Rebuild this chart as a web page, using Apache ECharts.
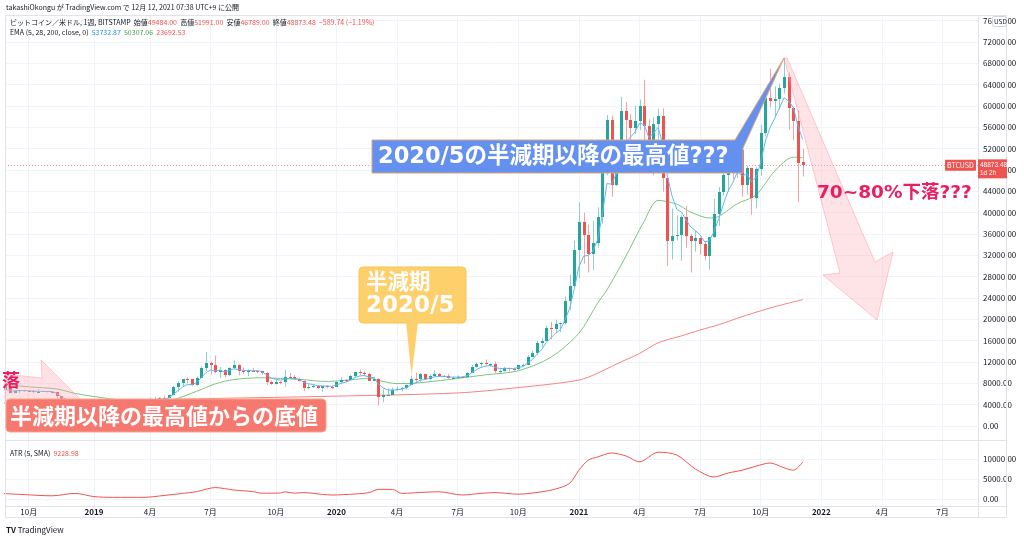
<!DOCTYPE html>
<html><head><meta charset="utf-8">
<script src="https://cdn.jsdelivr.net/npm/echarts@6/dist/echarts.min.js"></script>
<style>html,body{margin:0;padding:0;background:#fff}#c{width:1024px;height:538px}</style>
</head><body><div id="c"></div>
<script>
// ---- data (weekly BTCUSD, Bitstamp) ----
const firstWeek = '2018-08-20';
// [open, high, low, close]
const ohlc = [
 [6480,6930,6250,6710],[6710,7300,6660,7260],[7260,7410,6200,6250],[6250,6570,6170,6500],[6500,6820,6120,6710],[6710,6790,6400,6620],
 [6620,6680,6510,6570],[6570,6700,6120,6390],[6390,6900,6370,6410],[6410,6500,6380,6480],[6480,6480,6260,6430],
 [6430,6580,6320,6400],[6400,6440,5200,5590],[5590,5600,3800,4060],[4060,4400,3550,4160],
 [4160,4220,3260,3270],[3270,3560,3160,3230],[3230,4230,3200,4000],[4000,4250,3560,3840],[3840,4050,3650,4040],
 // 2019
 [4040,4100,3550,3540],[3540,3700,3530,3550],[3550,3630,3480,3520],[3520,3560,3350,3410],
 [3410,3700,3360,3660],[3660,3720,3580,3670],[3670,4200,3650,3810],[3810,3900,3780,3860],
 [3860,3950,3700,3940],[3940,4050,3850,4020],[4020,4100,3950,4020],[4020,4140,3950,4100],
 [4100,5340,4090,5060],[5060,5470,4950,5150],[5150,5400,5130,5300],[5300,5650,4950,5230],[5230,5850,5200,5750],
 [5750,7500,5750,7250],[7250,8380,6400,8000],[8000,8770,7450,8730],[8730,9080,8000,8720],
 [8720,8810,7450,7640],[7640,9350,7530,8980],[8980,11250,8980,10850],[10850,13880,10300,11900],
 [11900,12100,9650,11450],[11450,13200,9900,10200],[10200,11080,9070,10580],[10580,10640,9150,9500],[9500,11000,9380,10900],
 [10900,12300,10700,11380],[11380,11600,9500,10350],[10350,10950,9740,10110],[10110,10620,9330,10370],
 [10370,10920,10200,10320],[10320,10470,9880,10300],[10300,10340,9610,9980],[9980,10080,7700,8230],[8230,8480,7750,7860],
 [7860,8780,7780,8280],[8280,8400,7850,8220],[8220,10540,7300,9250],[9250,9950,8950,9200],
 [9200,9570,8650,8750],[8750,9100,8400,8510],[8510,8520,6550,7040],[7040,7870,6860,7400],
 [7400,7800,7160,7500],[7500,7620,6970,7080],[7080,7520,6430,7510],[7510,7690,7050,7390],[7390,7550,6870,7350],
 // 2020
 [7350,8450,7350,8180],[8180,9190,8000,8650],[8650,8760,8250,8600],[8600,9550,8550,9330],
 [9330,10180,9130,10150],[10150,10500,9580,9910],[9910,10260,9300,9670],[9670,9970,8450,8530],
 [8530,9190,8450,8890],[8890,8950,3850,5360],[5360,6900,4450,5830],[5830,6980,5700,5880],[5880,7220,5870,6780],
 [6780,7470,6600,6900],[6900,7300,6470,7120],[7120,7780,6780,7700],[7700,9460,7650,8900],
 [8900,10000,8250,8720],[8720,9950,8120,9670],[9670,9850,8700,8900],[8900,9750,8600,9450],
 [9450,10400,9260,9750],[9750,9950,9200,9450],[9450,9600,9200,9300],[9300,9800,8850,9000],[9000,9300,8940,9070],
 [9070,9470,9050,9240],[9240,9360,9000,9170],[9170,10100,9140,9950],[9950,11450,9920,11070],
 [11070,11900,10950,11680],[11680,12050,11150,11900],[11900,12480,11400,11650],[11650,11700,11130,11700],[11700,12080,9880,10250],
 [10250,10600,9880,10320],[10320,11100,10200,10900],[10900,10990,10150,10780],[10780,10960,10400,10670],
 [10670,11500,10520,11380],[11380,11740,11200,11500],[11500,13350,11400,13030],[13030,14100,12950,13770],
 [13770,15960,13300,15480],[15480,16500,14800,15990],[15990,18900,15950,18400],[18400,19500,16200,18200],[18200,19900,17600,19150],
 [19150,19420,17600,19270],[19270,24300,19000,23450],[23450,28400,21800,26300],[26300,34800,26100,33000],
 // 2021
 [33000,41950,27700,38200],[38200,40000,30400,35850],[35850,37800,28800,32300],[32300,38500,29300,34300],
 [34300,41000,33400,39200],[39200,49700,37900,48600],[48600,58300,47000,57400],[57400,58200,43000,45200],
 [45200,52600,45000,50900],[50900,61700,50400,59000],[59000,60700,53300,57400],[57400,58500,50500,55800],[55800,60100,54700,57100],
 [57100,61200,55500,60000],[60000,64900,51300,56200],[56200,57500,47500,49100],[49100,57900,47000,56600],
 [56600,59500,53000,58200],[58200,59600,43900,46500],[46500,46600,30000,34700],[34700,40800,31200,35600],[35600,39500,34800,35800],
 [35800,39500,31000,39100],[39100,41300,33400,35600],[35600,36000,28800,34700],[34700,36600,32700,35300],
 [35300,35400,32100,34200],[34200,34700,31100,31800],[31800,35400,29300,35400],[35400,42600,35300,39800],
 [39800,44800,37500,43800],[43800,48200,43200,47000],[47000,49400,43900,48900],[48900,50500,46300,48800],[48800,52900,46500,51800],
 [51800,52900,43000,45100],[45100,48800,43400,48300],[48300,48400,39600,42800],[42800,48500,40800,48200],
 [48200,56500,46900,55000],[55000,62000,54300,61500],[61500,67000,59700,60900],[60900,63700,58000,61300],
 [61300,64200,59400,63300],[63300,69000,62300,65500],[65500,66300,55600,59700],[59700,59800,53600,57200],[57200,59200,42000,49400],
 [49484,51991,46789,48873.48]
];
// EMA(5) weekly
const ema5 = [
 6637,6845,6647,6598,6635,6630,6610,6537,6495,6490,6470,6447,6161,5461,5027,4441,4037,4025,3963,3989,
 3839,3743,3669,3583,3609,3629,3689,3746,3811,3881,3927,3985,4343,4612,4841,4971,5231,5904,6603,7312,7781,
 7734,8149,9049,9999,10483,10389,10453,10135,10390,10720,10597,10435,10413,10382,10355,10230,9563,8995,
 8757,8578,8802,8935,8873,8752,8181,7921,7781,7547,7535,7487,7441,
 7687,8008,8205,8580,9103,9372,9471,9157,9068,7832,7165,6737,6751,6801,6907,7171,7747,8071,8604,8703,8952,
 9218,9295,9297,9198,9155,9183,9179,9436,9981,10547,10998,11215,11377,11001,10774,10816,10804,10759,
 10966,11144,11773,12439,13453,14299,15666,16511,17391,18017,19828,21985,25657,
 29838,31842,31995,32763,34909,39473,45449,45366,47211,51141,53227,54085,55090,56727,56551,54067,54911,
 56007,52838,46792,43061,40641,40127,38618,37312,36641,35827,34485,34790,36460,38907,41605,44037,45625,
 47683,46822,47315,45810,46607,49405,53437,55925,57717,59578,61552,60935,59690,56260,53732.87
];
const ema28Dates = ['2018-08-20','2018-10-01','2018-11-12','2018-12-10','2019-01-14','2019-02-18','2019-04-01','2019-05-06','2019-06-10','2019-07-08','2019-08-05','2019-09-16','2019-10-14','2019-11-11','2019-12-23','2020-01-27','2020-02-24','2020-03-16','2020-04-06','2020-05-04','2020-06-22','2020-08-17','2020-10-05','2020-11-23','2021-01-04','2021-02-01','2021-02-15','2021-03-15','2021-04-12','2021-05-03','2021-05-31','2021-06-21','2021-07-19','2021-08-02','2021-08-30','2021-09-27','2021-10-25','2021-11-22','2021-12-06'];
const ema28Values = [7900,7350,6950,6100,5400,4850,4550,4950,6500,7900,8700,9050,8900,8750,8350,8650,8950,8350,7950,8050,8700,9600,10350,12900,17400,23000,25500,31700,38400,42300,41600,40100,39000,39300,41700,43300,47800,50400,50307.06];
const ema200Dates = ['2018-08-20','2019-01-07','2019-07-01','2020-01-06','2020-07-06','2020-10-05','2021-01-04','2021-02-01','2021-03-01','2021-04-05','2021-05-03','2021-06-07','2021-07-05','2021-08-02','2021-09-06','2021-10-04','2021-11-01','2021-12-06'];
const ema200Values = [4300,4700,5150,5600,6200,7200,8600,9900,11600,13600,15600,16900,18000,19000,20500,21600,22600,23692.53];
const atrDates = ['2018-08-20','2018-09-24','2018-11-05','2018-12-10','2019-01-07','2019-02-04','2019-03-25','2019-04-15','2019-05-20','2019-06-10','2019-07-08','2019-08-05','2019-09-02','2019-09-16','2019-10-14','2019-10-21','2019-11-04','2019-11-18','2019-12-16','2019-12-30','2020-02-03','2020-02-24','2020-03-09','2020-03-30','2020-04-13','2020-05-18','2020-06-08','2020-07-13','2020-08-10','2020-08-31','2020-10-05','2020-11-09','2020-11-30','2020-12-21','2021-01-04','2021-01-18','2021-02-01','2021-02-22','2021-03-15','2021-04-05','2021-05-03','2021-05-31','2021-06-28','2021-07-26','2021-08-16','2021-09-06','2021-09-27','2021-10-18','2021-11-08','2021-11-22','2021-12-06'];
const atrValues = [1400,1100,800,1400,600,420,420,750,1400,1850,2850,2250,1850,1450,1500,1800,1450,1600,1150,1000,1250,1600,2400,2400,1400,1700,1800,1000,1400,1600,1200,1800,2500,3900,7200,9700,10500,11500,10800,9300,11700,11000,7500,5500,6500,7200,8200,9000,7800,7200,9228.98];
const priceTicks = [0,4000,8000,12000,16000,20000,24000,28000,32000,36000,40000,44000,48000,52000,56000,60000,64000,68000,72000,76000];
const atrTicks = [0,5000,10000];
const timeTickDates = ['2018-10-01','2019-01-07','2019-04-01','2019-07-01','2019-10-07','2020-01-06','2020-04-06','2020-07-06','2020-10-05','2021-01-04','2021-04-05','2021-07-05','2021-10-04','2022-01-03','2022-04-04','2022-07-04'];
const lastClose = 48873.48;
const peakWeek = '2021-11-08', peakHigh = 69000;
const halvingWeek = '2020-04-27', halvingHigh = 9460;

// ---- build ----
const DAY = 864e5;
const d = s => { const p = s.split('-'); return Date.UTC(+p[0], +p[1]-1, +p[2]); };
const t0 = d(firstWeek);
const weeks = ohlc.map((r,i) => t0 + i*7*DAY);
const candles = ohlc.map((r,i) => [weeks[i], r[0], r[3], r[2], r[1]]);
const ema5Data = ema5.map((v,i) => [weeks[i], v]);
const ema28Data = ema28Dates.map((s,i) => [d(s), ema28Values[i]]);
const ema200Data = ema200Dates.map((s,i) => [d(s), ema200Values[i]]);
const atrData = atrDates.map((s,i) => [d(s), atrValues[i]]);
const timeTicks = timeTickDates.map(d);
const ref = d('2019-01-07');
const xMin = ref - 133.6*DAY, xMax = ref + 1327.2*DAY;
const FONT = '"Noto Sans CJK JP", "Noto Sans", sans-serif';
const AFONT = '"DejaVu Sans", "Noto Sans CJK JP", sans-serif';
const GRID = '#f0f3fa', BORDER = '#e0e3eb', TXT = '#131722';

const chart = echarts.init(document.getElementById('c'));
const timeFmt = v => { const dt = new Date(v); const m = dt.getUTCMonth(); return m === 0 ? '{b|' + dt.getUTCFullYear() + '}' : (m+1) + '月'; };

chart.setOption({
  animation: false,
  backgroundColor: '#fff',
  grid: [{left:5, right:46, top:15, height:425}, {left:5, right:46, top:440, height:66}],
  xAxis: [
    {type:'value', gridIndex:0, min:xMin, max:xMax, axisLine:{show:false}, axisTick:{show:false, customValues:timeTicks},
     axisLabel:{show:false, customValues:timeTicks}, splitLine:{show:true, lineStyle:{color:GRID}}},
    {type:'value', gridIndex:1, min:xMin, max:xMax, axisLine:{show:false}, axisTick:{show:false, customValues:timeTicks},
     axisLabel:{customValues:timeTicks, formatter:timeFmt, fontSize:8, fontFamily:FONT, color:TXT, margin:2, hideOverlap:false,
       showMinLabel:true, showMaxLabel:true,
       rich:{b:{fontWeight:'bold', fontSize:8, fontFamily:FONT, color:TXT}}},
     splitLine:{show:true, lineStyle:{color:GRID}}}
  ],
  yAxis: [
    {type:'value', gridIndex:0, position:'right', min:-2625, max:77062.5, axisLine:{show:false},
     axisTick:{show:false, customValues:priceTicks},
     axisLabel:{customValues:priceTicks, formatter:v => v.toFixed(2), fontSize:8, fontFamily:FONT, color:TXT, margin:5},
     splitLine:{show:true, lineStyle:{color:GRID}}},
    {type:'value', gridIndex:1, position:'right', min:-1750, max:14750, axisLine:{show:false},
     axisTick:{show:false, customValues:atrTicks},
     axisLabel:{customValues:atrTicks, formatter:v => v.toFixed(2), fontSize:8, fontFamily:FONT, color:TXT, margin:5},
     splitLine:{show:true, lineStyle:{color:GRID}}}
  ],
  series: [
    {type:'line', name:'EMA200', xAxisIndex:0, yAxisIndex:0, data:ema200Data, showSymbol:false, smooth:0.3,
     lineStyle:{color:'#f28482', width:1}, z:2},
    {type:'line', name:'EMA28', xAxisIndex:0, yAxisIndex:0, data:ema28Data, showSymbol:false, smooth:0.3,
     lineStyle:{color:'#7cc47f', width:1}, z:2},
    {type:'custom', name:'BTCUSD', xAxisIndex:0, yAxisIndex:0, clip:true, data:candles, encode:{x:0, y:[1,2,3,4]}, z:3,
     renderItem: function(params, api){
       const t = api.value(0), o = api.value(1), c = api.value(2), l = api.value(3), h = api.value(4);
       const po = api.coord([t,o]), pc = api.coord([t,c]), pl = api.coord([t,l]), ph = api.coord([t,h]);
       const up = c >= o;
       const x = Math.round(po[0]);
       const top = Math.round(Math.min(po[1], pc[1])), bot = Math.round(Math.max(po[1], pc[1]));
       return {type:'group', children:[
         {type:'rect', shape:{x:x, y:ph[1], width:1, height:pl[1]-ph[1]}, style:{fill: up ? '#8fd1ca' : '#f5a3a1'}},
         {type:'rect', shape:{x:x-1, y:top, width:3, height:Math.max(bot-top,1)}, style:{fill: up ? '#26a69a' : '#ef5350'}}
       ]};
     }},
    {type:'line', name:'EMA5', xAxisIndex:0, yAxisIndex:0, data:ema5Data, showSymbol:false,
     lineStyle:{color:'#64b5f6', width:1}, z:4,
     markLine:{symbol:'none', silent:true, label:{show:false},
       lineStyle:{color:'#ef5350', type:[1,2], width:1, opacity:0.6}, data:[{yAxis:lastClose}]}},
    {type:'line', name:'ATR', xAxisIndex:1, yAxisIndex:1, data:atrData, showSymbol:false, smooth:0.3,
     lineStyle:{color:'#ef5350', width:1}}
  ]
});

// ---- annotations & chrome ----
const pk = chart.convertToPixel({xAxisIndex:0, yAxisIndex:0}, [d(peakWeek), peakHigh]);
const hv = chart.convertToPixel({xAxisIndex:0, yAxisIndex:0}, [d(halvingWeek), halvingHigh]);
const py = chart.convertToPixel({xAxisIndex:0, yAxisIndex:0}, [d(peakWeek), lastClose])[1];
const sm = (text, x, y, fill, size, weight, fam) => ({type:'text', x:x, y:y, z:200,
  style:{text:text, fill:fill, fontSize:size, fontWeight:weight||'normal', fontFamily:fam||FONT, verticalAlign:'middle', align:'left'}});
const R = '#ef5350';
const rt = (fill) => ({fill:fill, fontSize:7, fontFamily:FONT});
const g = [
  // frame
  {type:'rect', z:150, shape:{x:5.5, y:15.5, width:1001, height:502}, style:{fill:'none', stroke:BORDER, lineWidth:1}},
  {type:'line', z:150, shape:{x1:978.5, y1:15, x2:978.5, y2:518}, style:{stroke:BORDER, lineWidth:1}},
  {type:'line', z:150, shape:{x1:5, y1:440.5, x2:1007, y2:440.5}, style:{stroke:BORDER, lineWidth:1}},
  {type:'line', z:150, shape:{x1:5, y1:506.5, x2:1007, y2:506.5}, style:{stroke:BORDER, lineWidth:1}},
  // header
  sm('takashiOkongu が TradingView.com で 12月 12, 2021 07:38 UTC+9 に公開', 6, 7, TXT, 7),
  {type:'text', x:10, y:22, z:200, style:{verticalAlign:'middle', fontSize:7, fontFamily:FONT, fill:TXT,
    text:'{d|ビットコイン／米ドル, 1週, BITSTAMP  始値}{r|49484.00}{d|  高値}{r|51991.00}{d|  安値}{r|46789.00}{d|  終値}{r|48873.48}{r|  −589.74 (−1.19%)}',
    rich:{d:rt(TXT), r:rt(R)}}},
  {type:'text', x:10, y:32, z:200, style:{verticalAlign:'middle', fontSize:7, fontFamily:FONT, fill:TXT,
    text:'{d|EMA (5, 28, 200, close, 0)  }{b|53732.87}{d|  }{g|50307.06}{d|  }{r|23692.53}',
    rich:{d:rt(TXT), b:rt('#2196f3'), g:rt('#43a047'), r:rt(R)}}},
  {type:'text', x:10, y:453, z:200, style:{verticalAlign:'middle', fontSize:7, fontFamily:FONT, fill:TXT,
    text:'{d|ATR (5, SMA)  }{r|9228.98}', rich:{d:rt(TXT), r:rt(R)}}},
  {type:'text', x:6, y:530, z:200, style:{verticalAlign:'middle', fontSize:8, fontFamily:FONT, fill:TXT,
    text:'{l|TV} TradingView', rich:{l:{fontWeight:'bold', fontSize:8, fill:TXT, fontFamily:FONT}}}},
  // USD box
  {type:'rect', z:160, shape:{x:992.5, y:16.5, width:14, height:10, r:2}, style:{fill:'#fff', stroke:'#d1d4dc', lineWidth:1}},
  sm('USD', 994, 21.5, TXT, 6.5),
  // current price tags
  {type:'rect', z:160, shape:{x:945, y:py-5.5, width:31, height:11, r:1}, style:{fill:R}},
  sm('BTCUSD', 947, py, '#fff', 7),
  {type:'rect', z:210, shape:{x:978, y:py-6, width:29, height:19}, style:{fill:R}},
  {type:'text', x:980, y:py, z:220, style:{text:'48873.48', fill:'#fff', fontSize:6.5, fontFamily:'"Liberation Sans", sans-serif', verticalAlign:'middle', align:'left'}},
  {type:'text', x:980, y:py+8, z:220, style:{text:'1d 2h', fill:'#fff', fontSize:6.5, fontFamily:'"Liberation Sans", sans-serif', verticalAlign:'middle', align:'left'}},
  // left pink arrow remnant & text
  {type:'polygon', z:170, shape:{points:[[5,374],[42,378],[41,360],[82,401],[5,401]]},
    style:{fill:'rgba(255,170,180,0.35)', stroke:'rgba(255,140,150,0.4)', lineWidth:1}},
  sm('落', 2, 380, '#e91e63', 18, 'bold'),
  // big pink arrow
  {type:'polygon', z:170, shape:{points:[[pk[0],pk[1]],[pk[0]+3,pk[1]],[875,262],[893,252],[877,320],[823,275],[840,273]]},
    style:{fill:'rgba(255,170,180,0.32)', stroke:'rgba(255,140,150,0.45)', lineWidth:1}},
  sm('70~80%下落???', 817, 193, '#e91e63', 18.5, 'bold', AFONT),
  // blue callout
  {type:'polygon', z:180, shape:{points:[[372,140],[735,140],[pk[0],pk[1]],[743,148],[743,173],[372,173]]},
    style:{fill:'#6490f0', stroke:'#dba779', lineWidth:1}},
  sm('2020/5の半減期以降の最高値???', 378, 157, '#fff', 22.5, 'bold', AFONT),
  // yellow callout
  {type:'rect', z:180, shape:{x:359, y:267, width:107, height:56, r:4}, style:{fill:'#fdd06b', stroke:'#f6c454', lineWidth:1}},
  {type:'polygon', z:180, shape:{points:[[406,322],[418,322],[hv[0]+0.5,hv[1]]]}, style:{fill:'#fdd06b'}},
  sm('半減期', 366, 283, '#fff', 21.5, 'bold', AFONT),
  sm('2020/5', 366, 306, '#fff', 23, 'bold', AFONT),
  // red box
  {type:'rect', z:180, shape:{x:6, y:399, width:320, height:33, r:4}, style:{fill:'#f6796f', stroke:'#f9a58c', lineWidth:1}},
  sm('半減期以降の最高値からの底値', 10, 416, '#fff', 22, 'bold')
];
chart.setOption({graphic: g});
</script></body></html>
